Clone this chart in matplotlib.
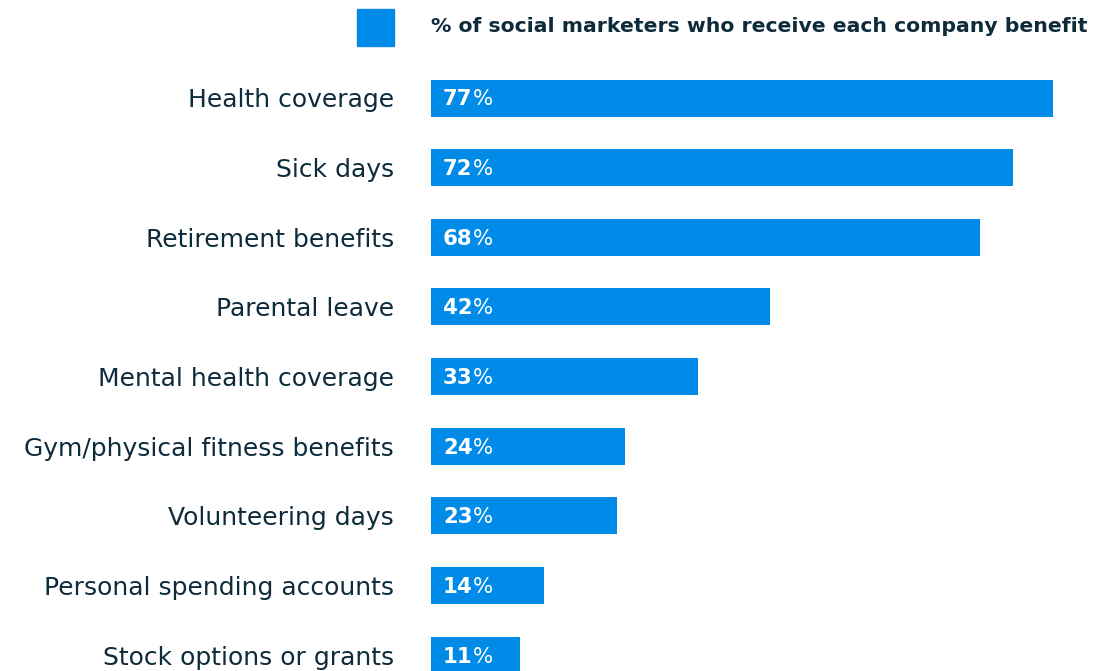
import matplotlib
matplotlib.use("Agg")
import matplotlib.pyplot as plt
from matplotlib.patches import Rectangle

categories = [
    "Health coverage",
    "Sick days",
    "Retirement benefits",
    "Parental leave",
    "Mental health coverage",
    "Gym/physical fitness benefits",
    "Volunteering days",
    "Personal spending accounts",
    "Stock options or grants",
]
values = [77, 72, 68, 42, 33, 24, 23, 14, 11]
legend_label = "% of social marketers who receive each company benefit"

BAR = "#008BE9"
TEXT = "#0D2B3B"
FONT = ["DejaVu Sans"]

W, H = 1108, 671
fig = plt.figure(figsize=(W / 100, H / 100), dpi=100)
fig.patch.set_facecolor("white")

left_px = 431
px_per_unit = 8.08
pitch = 69.66
first_center = 98

ax = fig.add_axes([left_px / W, 0, 1 - left_px / W, 1])
ax.set_xlim(0, (W - left_px) / px_per_unit)
ax.set_ylim((H - first_center) / pitch, -first_center / pitch)
for s in ax.spines.values():
    s.set_visible(False)
ax.set_xticks([])

ypos = list(range(len(categories)))
ax.barh(ypos, values, height=37 / pitch, color=BAR, left=0)
ax.set_yticks(ypos)
ax.set_yticklabels(categories, fontsize=18, color=TEXT, family=FONT)
ax.tick_params(axis="y", length=0, pad=26.5)
for lab in ax.get_yticklabels():
    lab.set_verticalalignment("center_baseline")

for y, v in zip(ypos, values):
    t = ax.text(12 / px_per_unit, y - 0.01, str(v), color="white", fontsize=15.3,
                fontweight="bold", family=FONT, va="center_baseline", ha="left")
    ax.annotate("%", xy=(1, 0), xycoords=t, va="bottom", ha="left",
                color="white", fontsize=15.3, family=FONT)

# legend swatch and caption
fig.patches.append(Rectangle((357 / W, 1 - 46 / H), 37 / W, 37 / H,
                             transform=fig.transFigure, color=BAR))
fig.text(left_px / W, 1 - 27 / H, legend_label, fontsize=14.7,
         fontweight="bold", color=TEXT, family=FONT, va="center", ha="left")

fig.savefig("out.png", dpi=100)
